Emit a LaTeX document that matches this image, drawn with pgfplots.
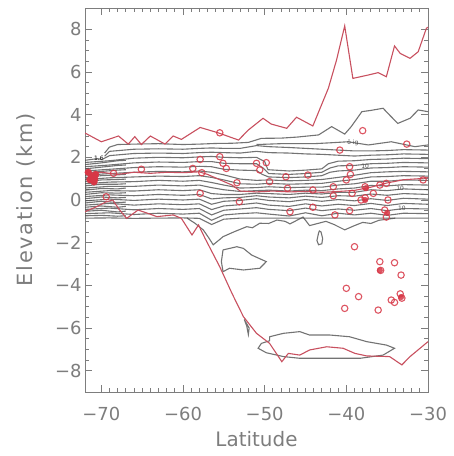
\documentclass[border=0pt]{standalone}
\usepackage{pgfplots}
\pgfplotsset{compat=1.18}
\usepackage{fontspec}
\setmainfont{DejaVu Sans}
\definecolor{txt}{RGB}{125,125,125}
\definecolor{cont}{RGB}{80,80,80}
\definecolor{redl}{RGB}{200,80,95}
\definecolor{redm}{RGB}{215,55,70}
\begin{document}
\begin{tikzpicture}
\begin{axis}[
  width=343bp, height=384bp, scale only axis,
  xmin=-72, xmax=-30, ymin=-9, ymax=9,
  xtick={-70,-60,-50,-40,-30},
  xticklabels={−70,−60,−50,−40,−30},
  ytick={-8,-6,-4,-2,0,2,4,6,8},
  yticklabels={−8,−6,−4,−2,0,2,4,6,8},
  minor x tick num=9, minor y tick num=3,
  tick align=inside,
  major tick length=7bp, minor tick length=4bp,
  axis line style={txt, line width=0.9bp}, tick style={txt, line width=0.8bp},
  every tick label/.append style={font=\fontsize{18}{18}\selectfont, text=txt},
  xticklabel style={yshift=-12bp},
  xlabel={Latitude}, ylabel={Elevation (km)},
  xlabel style={font=\fontsize{20}{20}\selectfont, text=txt, yshift=-3bp},
  ylabel style={font=\fontsize{21}{21}\selectfont\addfontfeature{LetterSpace=8}, text=txt, yshift=13bp},
  contour/.style={cont, line width=1.1bp, opacity=0.8},
  redline/.style={redl, line width=1.1bp},
  redmark/.style={only marks, mark=o, mark size=3.2bp, redm, opacity=0.85, mark options={line width=1.1bp}},
]
% ---- band contours ----
\addplot[contour] coordinates {(-72,-0.85)(-69,-0.84)(-66,-0.86)(-63,-0.85)(-60,-0.84)(-58,-0.86)(-56.5,-1.15)(-55,-0.9)(-53,-0.85)(-45,-0.85)(-30,-0.85)};
\addplot[contour] coordinates {(-72,-0.64)(-69,-0.6)(-66,-0.68)(-63,-0.62)(-60,-0.66)(-58,-0.62)(-56.5,-0.95)(-55,-0.7)(-53,-0.64)(-51,-0.6)(-49.5,-0.66)(-47,-0.75)(-45,-0.6)(-43,-0.74)(-41,-0.62)(-39,-0.7)(-37,-0.62)(-35,-0.72)(-33,-0.62)(-30,-0.64)};
\addplot[contour] coordinates {(-72,-0.44)(-69,-0.38)(-66,-0.46)(-63,-0.4)(-60,-0.44)(-58,-0.4)(-56.5,-0.7)(-55,-0.48)(-53,-0.42)(-51,-0.36)(-49.5,-0.44)(-47,-0.5)(-45,-0.38)(-43,-0.5)(-41,-0.42)(-39,-0.48)(-37,-0.4)(-35,-0.5)(-33,-0.4)(-30,-0.42)};
\addplot[contour] coordinates {(-72,-0.24)(-69,-0.16)(-66,-0.24)(-63,-0.18)(-60,-0.22)(-58,-0.18)(-56.5,-0.45)(-55,-0.28)(-53,-0.22)(-51,-0.14)(-49.5,-0.24)(-47,-0.3)(-45,-0.18)(-43,-0.28)(-41,-0.2)(-39,-0.26)(-37,-0.16)(-35,-0.26)(-33,-0.16)(-30,-0.2)};
\addplot[contour] coordinates {(-72,-0.04)(-69,0.04)(-66,-0.02)(-63,0.04)(-60,0.0)(-58,0.04)(-56.5,-0.2)(-55,-0.06)(-53,-0.02)(-51,0.06)(-49.5,-0.02)(-47,-0.08)(-45,0.02)(-43,-0.06)(-41,0.02)(-39,-0.04)(-37,0.06)(-35,-0.02)(-33,0.08)(-30,0.04)};
\addplot[contour] coordinates {(-72,0.16)(-69,0.24)(-66,0.2)(-63,0.26)(-60,0.22)(-58,0.26)(-56.5,0.05)(-55,0.1)(-53,0.12)(-51,0.2)(-49.5,0.14)(-47,0.1)(-45,0.18)(-43,0.12)(-41,0.2)(-39,0.18)(-37,0.28)(-35,0.22)(-33,0.3)(-30,0.26)};
\addplot[contour] coordinates {(-72,0.36)(-69,0.44)(-66,0.42)(-63,0.48)(-60,0.44)(-58,0.48)(-56.5,0.3)(-55,0.26)(-53,0.26)(-51,0.32)(-49.5,0.3)(-47,0.26)(-45,0.32)(-43,0.28)(-41,0.36)(-39,0.36)(-37,0.48)(-35,0.44)(-33,0.52)(-30,0.48)};
\addplot[contour] coordinates {(-72,0.56)(-69,0.64)(-66,0.64)(-63,0.7)(-60,0.66)(-58,0.7)(-56.5,0.58)(-55,0.48)(-53,0.4)(-51,0.44)(-49.5,0.46)(-47,0.42)(-45,0.46)(-43,0.44)(-41,0.52)(-39,0.56)(-37,0.68)(-35,0.66)(-33,0.72)(-30,0.7)};
\addplot[contour] coordinates {(-72,0.76)(-69,0.84)(-66,0.86)(-63,0.92)(-60,0.88)(-58,0.92)(-56.5,0.82)(-55,0.7)(-53,0.56)(-51,0.58)(-49.5,0.62)(-47,0.58)(-45,0.6)(-43,0.6)(-41,0.7)(-39,0.76)(-37,0.88)(-35,0.88)(-33,0.94)(-30,0.92)};
\addplot[contour] coordinates {(-72,0.96)(-69,1.04)(-66,1.08)(-63,1.12)(-60,1.1)(-58,1.14)(-56.5,1.06)(-55,0.94)(-53,0.76)(-51,0.74)(-49.5,0.78)(-47,0.74)(-45,0.76)(-43,0.78)(-41,0.88)(-39,0.96)(-37,1.08)(-35,1.1)(-33,1.14)(-30,1.12)};
\addplot[contour] coordinates {(-72,1.16)(-69,1.24)(-66,1.3)(-63,1.34)(-60,1.32)(-58,1.36)(-56.5,1.3)(-55,1.18)(-53,0.98)(-51,0.92)(-49.5,0.94)(-47,0.9)(-45,0.92)(-43,0.96)(-41,1.06)(-39,1.16)(-37,1.28)(-35,1.32)(-33,1.34)(-30,1.32)};
\addplot[contour] coordinates {(-72,1.36)(-69,1.44)(-66,1.52)(-63,1.56)(-60,1.54)(-58,1.58)(-56.5,1.56)(-55,1.44)(-53,1.4)(-51,1.38)(-50.3,1.2)(-49.5,1.08)(-47,1.05)(-45,1.08)(-43,1.14)(-42,1.3)(-41,1.36)(-39,1.4)(-37,1.5)(-35,1.52)(-33,1.56)(-30,1.54)};
\addplot[contour] coordinates {(-72,1.56)(-69,1.64)(-66,1.74)(-63,1.78)(-60,1.76)(-58,1.8)(-56.5,1.8)(-55,1.72)(-53,1.7)(-51,1.7)(-50.2,1.5)(-49.5,1.24)(-47,1.2)(-45,1.24)(-43,1.3)(-42,1.5)(-41,1.6)(-39,1.62)(-37,1.7)(-35,1.72)(-33,1.76)(-30,1.74)};
\addplot[contour] coordinates {(-72,1.76)(-69,1.84)(-66,1.96)(-63,2.0)(-60,1.98)(-58,2.02)(-56.5,2.04)(-55,2.0)(-53,1.98)(-51,2.0)(-50,1.8)(-49.6,1.42)(-47,1.36)(-45,1.4)(-43,1.46)(-42.2,1.7)(-41,1.82)(-39,1.84)(-37,1.9)(-35,1.92)(-33,1.96)(-30,1.94)};
\addplot[contour] coordinates {(-69.8,1.92)(-69,2.08)(-66,2.18)(-63,2.2)(-60,2.18)(-58,2.22)(-56.5,2.24)(-55,2.22)(-53,2.2)(-51,2.28)(-49.5,2.22)(-47,2.2)(-45,2.16)(-43,2.14)(-41,2.1)(-39,2.06)(-37,2.1)(-35,2.12)(-33,2.16)(-30,2.14)};
\addplot[contour] coordinates {(-69.6,2.05)(-69,2.28)(-66,2.38)(-63,2.4)(-60,2.38)(-58,2.42)(-56.5,2.44)(-55,2.42)(-53,2.42)(-51,2.55)(-49.5,2.5)(-47,2.46)(-45,2.42)(-43,2.38)(-41,2.34)(-39,2.3)(-37,2.3)(-35,2.32)(-33,2.36)(-30,2.34)};
% outer upper contours
\addplot[contour] coordinates {(-69.6,2.2)(-69,2.48)(-68,2.6)(-66,2.62)(-63,2.64)(-60,2.6)(-58,2.62)(-56,2.65)(-54,2.66)(-52,2.7)(-50.4,2.89)(-48,2.9)(-46,2.95)(-43.4,3.05)(-41.8,3.44)(-40.2,3.09)(-39.4,3.44)(-38.1,4.14)(-37,4.2)(-35.5,4.3)(-34.7,3.98)(-33.7,3.59)(-32.2,3.83)(-31.2,4.22)(-30,4.14)};
\addplot[contour] coordinates {(-51,2.6)(-48,2.64)(-44,2.64)(-42,2.68)(-39.8,2.73)(-37.3,2.58)(-34.5,2.73)(-31.6,2.5)(-30,2.58)};
% dense extra lines on the left
\addplot[contour] coordinates {(-72,-0.74)(-70,-0.72)(-68,-0.76)(-67,-0.74)};
\addplot[contour] coordinates {(-72,-0.53)(-70,-0.48)(-68,-0.56)(-67,-0.52)};
\addplot[contour] coordinates {(-72,-0.34)(-70,-0.28)(-68,-0.34)(-67,-0.3)};
\addplot[contour] coordinates {(-72,-0.14)(-70,-0.06)(-68,-0.12)(-67,-0.1)};
\addplot[contour] coordinates {(-72,0.06)(-70,0.14)(-68,0.1)(-67,0.12)};
\addplot[contour] coordinates {(-72,0.26)(-70,0.34)(-68,0.32)(-67,0.34)};
\addplot[contour] coordinates {(-72,0.46)(-70,0.54)(-68,0.52)(-67,0.56)};
\addplot[contour] coordinates {(-72,0.66)(-70,0.74)(-68,0.74)(-67,0.76)};
\addplot[contour] coordinates {(-72,0.86)(-70,0.94)(-68,0.96)(-67,0.98)};
\addplot[contour] coordinates {(-72,1.06)(-70,1.14)(-68,1.18)(-67,1.2)};
\addplot[contour] coordinates {(-72,1.26)(-70,1.34)(-68,1.4)(-67,1.42)};
\addplot[contour] coordinates {(-72,1.46)(-70,1.54)(-68,1.62)(-67,1.64)};
\addplot[contour] coordinates {(-72,1.66)(-70,1.74)(-68,1.84)(-67,1.86)};
\addplot[contour] coordinates {(-72,1.86)(-70.5,1.94)(-69.9,1.9)};
% lower contours
\addplot[contour] coordinates {(-59.5,-0.85)(-58.5,-1.1)(-57.5,-1.41)(-56.8,-1.8)(-56.3,-2.1)(-55.5,-1.85)(-55.1,-1.72)(-53.8,-1.5)(-52.2,-1.25)(-51.5,-1.3)(-50.6,-1.09)(-49.5,-1.1)(-48.5,-0.94)(-47.5,-1.0)(-46.9,-1.12)(-45.3,-0.8)(-44.5,-1.2)(-43.5,-1.1)(-42.5,-1.0)(-41.5,-1.15)(-40.2,-1.4)(-39,-1.2)(-38,-1.05)(-37,-1.1)(-36,-0.95)(-35,-0.9)(-34,-0.85)};
\addplot[contour] coordinates {(-43.4,-1.55)(-43.6,-1.9)(-43.4,-2.1)(-43.0,-2.05)(-42.9,-1.8)(-43.1,-1.5)(-43.3,-1.45)(-43.4,-1.55)};
\addplot[contour] coordinates {(-55.1,-2.34)(-53.4,-2.19)(-52.6,-2.27)(-51.6,-2.58)(-49.8,-2.89)(-50.6,-3.2)(-52.6,-3.28)(-54.3,-3.2)(-55.1,-3.36)(-55.3,-2.89)(-55.1,-2.34)};
\addplot[contour] coordinates {(-49.4,-6.41)(-47.7,-6.25)(-45.7,-6.17)(-44.5,-6.33)(-42.0,-6.33)(-39.6,-6.41)(-37.5,-6.64)(-35.1,-6.8)(-34.1,-6.95)(-35.5,-7.27)(-38.3,-7.42)(-41.6,-7.42)(-45.7,-7.42)(-47.7,-7.34)(-49.8,-7.16)(-50.8,-6.95)(-50.4,-6.72)(-49.4,-6.6)(-49.4,-6.41)};
\addplot[contour] coordinates {(-52.5,-5.6)(-52.2,-5.9)(-52.0,-6.3)(-51.9,-6.0)(-52.5,-5.6)};
% ---- red lines ----
\addplot[redline] coordinates {(-72,3.14)(-70,2.73)(-67.9,3.0)(-66.7,2.62)(-65.9,2.97)(-65.1,2.6)(-64.0,3.0)(-62.2,2.62)(-61.2,3.0)(-60.2,2.84)(-57.9,3.4)(-55.7,3.15)(-53.2,2.81)(-52.0,3.28)(-50.2,3.83)(-49.2,3.56)(-47.3,3.36)(-46.1,3.88)(-44.1,3.47)(-42.2,5.24)(-41.2,6.56)(-40.2,8.16)(-39.2,5.7)(-37.3,5.86)(-36.1,5.97)(-35.1,5.78)(-34.1,7.22)(-33.4,6.87)(-32.2,6.64)(-31.2,6.95)(-30.2,8.05)(-30,8.1)};
\addplot[redline] coordinates {(-72,-0.55)(-70.5,-0.3)(-69.5,-0.1)(-68.6,0.0)(-67.8,-0.45)(-66.9,-0.86)(-65.5,-0.47)(-64.5,-0.6)(-63.2,-0.78)(-61.2,-0.7)(-60.2,-0.86)(-58.9,-1.64)(-58.1,-1.17)(-57.3,-1.8)(-55.5,-3.13)(-54.0,-4.38)(-52.6,-5.47)(-51.0,-6.25)(-49.4,-6.72)(-47.9,-7.58)(-47.1,-7.19)(-45.7,-7.27)(-44.5,-7.03)(-42.4,-6.88)(-40.4,-6.95)(-38.95,-7.19)(-37.5,-7.31)(-34.7,-7.34)(-33.2,-7.73)(-32.2,-7.34)(-30,-6.64)};
\addplot[redline] coordinates {(-72,1.25)(-70,1.3)(-68,1.2)(-66,1.3)(-64,1.25)(-62,1.3)(-60,1.28)(-58,1.32)(-57,1.2)(-55.5,0.95)(-54,0.7)(-53,0.42)(-51,0.38)(-49,0.42)(-47,0.38)(-45,0.4)(-43,0.36)(-41,0.4)(-39,0.45)(-37,0.6)(-35,0.8)(-33,0.95)(-31,1.0)(-30,1.05)};
% ---- red markers ----
\addplot[only marks, mark=*, mark size=3.4bp, redm] coordinates {(-71.6,1.3)(-71.2,1.1)(-70.9,0.85)(-70.7,1.2)(-71.4,0.95)(-70.8,1.0)};
\addplot[redmark] coordinates {
(-55.5,3.15)(-38.0,3.25)(-40.8,2.34)(-32.6,2.62)
(-68.5,1.25)(-69.4,0.15)(-65.1,1.44)
(-58.8,1.48)(-57.9,1.9)(-57.7,1.28)(-57.9,0.31)
(-55.5,2.03)(-55.1,1.72)(-54.7,1.48)(-53.4,0.81)(-53.1,-0.08)
(-51.0,1.72)(-50.6,1.41)(-49.8,1.75)(-49.4,0.86)
(-47.4,1.09)(-47.2,0.55)(-46.9,-0.55)
(-44.7,1.17)(-44.1,0.47)(-44.1,-0.34)
(-41.6,0.62)(-41.4,-0.7)(-40.0,0.94)(-39.6,1.56)(-39.5,1.2)(-39.3,0.31)
(-38.2,0.0)(-37.7,0.62)(-37.7,0.1)(-36.7,0.31)(-35.9,0.7)(-35.1,0.78)
(-34.9,0.0)(-35.3,-0.47)(-35.1,-0.8)(-30.6,0.94)(-39.6,-0.5)(-41.6,0.2)
(-39.0,-2.19)(-40.0,-4.14)(-40.2,-5.08)(-38.5,-4.53)
(-35.9,-2.89)(-35.8,-3.3)(-34.1,-2.94)(-33.3,-3.52)
(-34.5,-4.69)(-34.1,-4.8)(-33.4,-4.4)(-33.2,-4.6)(-36.1,-5.16)};
\addplot[only marks, mark=*, mark size=2.8bp, redm, opacity=0.85] coordinates {(-37.6,0.55)(-37.7,0.0)(-35.0,-0.6)(-35.9,-3.3)(-33.3,-4.55)};
% contour labels
\node[font=\fontsize{6}{6}\selectfont, cont] at (axis cs:-37.7,1.56) {10};
\node[font=\fontsize{6}{6}\selectfont, cont] at (axis cs:-33.4,0.55) {10};
\node[font=\fontsize{6}{6}\selectfont, cont] at (axis cs:-33.2,-0.4) {10};
\node[font=\fontsize{6}{6}\selectfont, cont] at (axis cs:-39.2,2.7) {ö ig};
\node[font=\fontsize{6}{6}\selectfont, black] at (axis cs:-70.3,1.95) {1.6};
\end{axis}
\path ([shift={(-85bp,-64bp)}]current axis.south west) rectangle ([shift={(25bp,8bp)}]current axis.north east);
\end{tikzpicture}
\end{document}
